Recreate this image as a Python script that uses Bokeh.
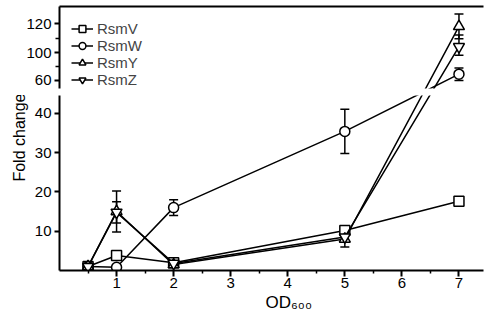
import numpy as np
from bokeh.plotting import figure
from bokeh.models import (FixedTicker, LinearAxis, Range1d, Whisker, TeeHead, Title,
                          ColumnDataSource, CustomJSTickFormatter, Legend, LegendItem)
from bokeh.layouts import column
from bokeh.embed import file_html
from bokeh.resources import INLINE

# ---------------- data ----------------
od = [0.5, 1, 2, 5, 7]
series_names = ["RsmV", "RsmW", "RsmY", "RsmZ"]
rsmV = [1.0, 3.8, 2.0, 10.2, 17.6]
rsmV_err = [0.3, 0.8, 0.4, 0.8, 0.6]
rsmW = [1.0, 0.8, 16.0, 35.4, 69.0]
rsmW_err = [0.2, 0.3, 2.0, 5.6, 9.0]
rsmY = [1.0, 15.0, 1.5, 8.0, 118.0]
rsmY_err = [0.2, 5.2, 0.4, 2.0, 8.5]
rsmZ = [1.0, 14.8, 1.8, 8.5, 104.0]
rsmZ_err = [0.2, 2.7, 0.4, 1.0, 8.0]

x_ticks = [1, 2, 3, 4, 5, 6, 7]
x_minor_ticks = [0.5, 1.5, 2.5, 3.5, 4.5, 5.5, 6.5]
low_y_ticks = [10, 20, 30, 40]
up_y_ticks = [60, 100, 120]
up_y_labels = ["60", "100", "120"]
up_y_minor = [80, 110]

# broken (segmented) y scale: data value -> display coordinate
BREAK_VALUES = [0, 45, 60, 100, 120, 140]
BREAK_DISPLAY = [0, 45, 48.35, 55.47, 62.85, 70.23]
LOW_RANGE = (0, 44.53)
UP_RANGE = (46.31, 67.18)
SPLIT = 50


def brk(v):
    return np.interp(np.asarray(v, dtype=float), BREAK_VALUES, BREAK_DISPLAY)


FONT = "Liberation Sans"
markers = ["square", "circle", "triangle", "inverted_triangle"]
msizes = [10, 10, 11, 11]
values = [rsmV, rsmW, rsmY, rsmZ]
errors = [rsmV_err, rsmW_err, rsmY_err, rsmZ_err]

x_range = Range1d(0, 7.43)

up = figure(width=484, height=95, x_range=x_range, y_range=Range1d(*UP_RANGE),
            x_axis_location=None, output_backend="svg", toolbar_location=None,
            min_border_left=59, min_border_right=1, min_border_top=6, min_border_bottom=7)
low = figure(width=484, height=226, x_range=x_range, y_range=Range1d(*LOW_RANGE),
             output_backend="svg", toolbar_location=None,
             min_border_left=59, min_border_right=1, min_border_top=0, min_border_bottom=51)

for p in (up, low):
    p.xgrid.visible = False
    p.ygrid.visible = False
    p.outline_line_color = None
    p.background_fill_color = "white"
    p.border_fill_color = "white"

legend_items = []
for name, vals, errs, mk, ms in zip(series_names, values, errors, markers, msizes):
    vals = np.asarray(vals, float)
    errs = np.asarray(errs, float)
    disp = brk(vals)
    up_rs = []
    for p in (up, low):
        r1 = p.line(od, disp, line_color="black", line_width=1.5)
        if p is up:
            up_rs.append(r1)
    for p, mask in ((low, vals < SPLIT), (up, vals >= SPLIT)):
        src = ColumnDataSource(dict(
            base=np.asarray(od, float)[mask],
            upper=brk(vals[mask] + errs[mask]),
            lower=brk(vals[mask] - errs[mask])))
        w = Whisker(source=src, base="base", upper="upper", lower="lower",
                    line_color="black", line_width=1.5,
                    upper_head=TeeHead(size=9, line_color="black", line_width=1.5),
                    lower_head=TeeHead(size=9, line_color="black", line_width=1.5))
        p.add_layout(w)
    for p in (up, low):
        r2 = p.scatter(od, disp, marker=mk, size=ms, fill_color="white",
                       line_color="black", line_width=1.5)
        if p is up:
            up_rs.append(r2)
    legend_items.append(LegendItem(label=name, renderers=up_rs))

legend = Legend(items=legend_items, location=(12, 0), padding=0, margin=0,
                spacing=0, glyph_height=17, glyph_width=22, label_height=17,
                label_standoff=4, border_line_color=None, background_fill_alpha=0,
                label_text_font=FONT, label_text_font_size="15px")
up.add_layout(legend)


def style_axis(ax):
    ax.axis_line_width = 2
    ax.axis_line_color = "black"
    ax.major_tick_line_width = 2
    ax.minor_tick_line_width = 1.5
    ax.major_tick_in = 0
    ax.minor_tick_in = 0
    ax.major_label_text_font = FONT
    ax.major_label_text_font_size = "15px"
    ax.major_label_text_color = "black"


ly = low.yaxis[0]
ly.ticker = FixedTicker(ticks=low_y_ticks, minor_ticks=[])
style_axis(ly)
ly.major_tick_out = 5
ly.major_label_standoff = 3

low.add_layout(Title(text="Fold change", align="right", offset=-2, standoff=8,
                     text_font=FONT, text_font_size="16px", text_font_style="normal",
                     text_color="black"), "left")

lx = low.xaxis[0]
lx.ticker = FixedTicker(ticks=x_ticks, minor_ticks=x_minor_ticks)
style_axis(lx)
lx.major_tick_out = 6
lx.minor_tick_out = 3
lx.major_label_standoff = 1

low.add_layout(Title(text="OD\u2086\u2080\u2080", align="left", offset=206, standoff=0,
                     text_font=FONT, text_font_size="17px", text_font_style="normal",
                     text_color="black"), "below")

uy = up.yaxis[0]
uy.ticker = FixedTicker(ticks=brk(up_y_ticks).tolist(), minor_ticks=brk(up_y_minor).tolist())
uy.formatter = CustomJSTickFormatter(
    args=dict(pos=brk(up_y_ticks).tolist(), lab=up_y_labels),
    code="for (let i = 0; i < pos.length; i++) { if (Math.abs(pos[i] - tick) < 1e-6) return lab[i]; } return '';")
style_axis(uy)
uy.major_tick_out = 5
uy.minor_tick_out = 4
uy.major_label_standoff = 3

top_axis = LinearAxis(ticker=FixedTicker(ticks=[]), axis_line_width=2, axis_line_color="black",
                      major_tick_out=0, major_tick_in=0, minor_tick_out=0, minor_tick_in=0,
                      major_label_text_font_size="0px", major_label_standoff=0)
up.add_layout(top_axis, "above")

layout = column(up, low, spacing=0)
open("out.html", "w").write(file_html(layout, INLINE))
